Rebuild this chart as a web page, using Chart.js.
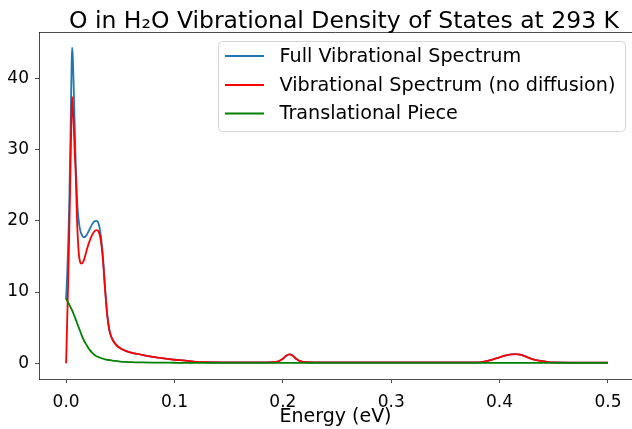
<!DOCTYPE html>
<html>
<head>
<meta charset="utf-8">
<script src="https://cdn.jsdelivr.net/npm/chart.js@4.4.1/dist/chart.umd.min.js"></script>
<style>
  html, body { margin: 0; padding: 0; background: #fff; }
  #c { display: block; }
</style>
</head>
<body>
<canvas id="c" width="632" height="429"></canvas>
<script>
// ---- data ----
const energy = [0, 0.001, 0.002, 0.003, 0.004, 0.005, 0.0055, 0.006, 0.007, 0.008,
  0.009, 0.010, 0.011, 0.012, 0.013, 0.014, 0.016, 0.018, 0.020, 0.022,
  0.024, 0.026, 0.028, 0.030, 0.032, 0.034, 0.036, 0.038, 0.040, 0.042,
  0.045, 0.050, 0.055, 0.060, 0.070, 0.080, 0.090, 0.100, 0.110, 0.120,
  0.130, 0.150, 0.180, 0.192, 0.196, 0.200, 0.203, 0.206, 0.209, 0.212,
  0.216, 0.222, 0.240, 0.300, 0.350, 0.380, 0.388, 0.394, 0.400, 0.406,
  0.411, 0.415, 0.419, 0.425, 0.431, 0.438, 0.445, 0.452, 0.470, 0.500];

const fullSpectrum = [9.0, 12.5, 17, 23, 31.5, 41, 44.3, 43.5, 39, 33,
  27.5, 23.5, 21, 19.6, 18.7, 18.2, 17.7, 17.8, 18.3, 18.9,
  19.5, 19.9, 20.0, 19.6, 18.0, 15.0, 10.5, 6.8, 4.6, 3.6,
  2.8, 2.1, 1.75, 1.5, 1.2, 0.9, 0.68, 0.5, 0.38, 0.2,
  0.15, 0.13, 0.13, 0.15, 0.28, 0.64, 1.05, 1.26, 1.1, 0.68,
  0.3, 0.15, 0.12, 0.12, 0.12, 0.13, 0.3, 0.56, 0.85, 1.1,
  1.27, 1.3, 1.22, 0.9, 0.56, 0.33, 0.18, 0.12, 0.1, 0.1];

const noDiffusion = [0, 6, 12, 19, 27, 35, 37.4, 36.5, 33.5, 29.5,
  26, 20.5, 17, 15.0, 14.2, 14.0, 14.3, 15.3, 16.4, 17.3,
  18.0, 18.5, 18.7, 18.5, 17.3, 14.5, 10.3, 6.7, 4.6, 3.6,
  2.8, 2.1, 1.75, 1.5, 1.2, 0.9, 0.68, 0.5, 0.38, 0.2,
  0.15, 0.13, 0.13, 0.15, 0.28, 0.64, 1.05, 1.26, 1.1, 0.68,
  0.3, 0.15, 0.12, 0.12, 0.12, 0.13, 0.3, 0.56, 0.85, 1.1,
  1.27, 1.3, 1.22, 0.9, 0.56, 0.33, 0.18, 0.12, 0.1, 0.1];

const translational = [9.1, 8.8, 8.5, 8.2, 7.9, 7.6, 7.45, 7.3, 6.9, 6.5,
  6.1, 5.7, 5.3, 4.9, 4.5, 4.1, 3.35, 2.8, 2.3, 1.85,
  1.5, 1.2, 1.0, 0.88, 0.75, 0.64, 0.56, 0.5, 0.45, 0.4,
  0.33, 0.25, 0.2, 0.16, 0.12, 0.1, 0.09, 0.08, 0.07, 0.07,
  0.06, 0.06, 0.06, 0.06, 0.06, 0.06, 0.06, 0.06, 0.06, 0.06,
  0.06, 0.06, 0.06, 0.06, 0.05, 0.05, 0.05, 0.05, 0.05, 0.05,
  0.05, 0.05, 0.05, 0.05, 0.05, 0.05, 0.05, 0.05, 0.05, 0.05];

const seriesNames = ['Full Vibrational Spectrum', 'Vibrational Spectrum (no diffusion)', 'Translational Piece'];
const xTickValues = [0.0, 0.1, 0.2, 0.3, 0.4, 0.5];
const yTickValues = [0, 10, 20, 30, 40];
const chartTitle = 'O in H\u2082O Vibrational Density of States at 293 K';
const xAxisLabel = 'Energy (eV)';

// ---- rendering ----
const FONT = "'DejaVu Sans', 'Liberation Sans', sans-serif";
const colors = ['#1f77b4', '#ff0000', '#008000'];
const seriesValues = [fullSpectrum, noDiffusion, translational];
const pts = arr => energy.map((e, i) => ({ x: e, y: arr[i] }));

const overlay = {
  id: 'overlay',
  afterDraw(chart) {
    const ctx = chart.ctx;
    const a = chart.chartArea;
    ctx.save();
    // top spine
    ctx.strokeStyle = 'rgba(0,0,0,0.7)';
    ctx.lineWidth = 1;
    ctx.beginPath();
    ctx.moveTo(a.left, a.top + 0.5);
    ctx.lineTo(a.right, a.top + 0.5);
    ctx.stroke();
    // title
    ctx.fillStyle = '#000';
    ctx.font = '23.5px ' + FONT;
    ctx.textAlign = 'center';
    ctx.textBaseline = 'alphabetic';
    ctx.fillText(chartTitle, 344, 28);
    // legend
    const bx = 218.5, by = 41.5, bw = 407, bh = 90, r = 4;
    ctx.beginPath();
    ctx.moveTo(bx + r, by);
    ctx.arcTo(bx + bw, by, bx + bw, by + bh, r);
    ctx.arcTo(bx + bw, by + bh, bx, by + bh, r);
    ctx.arcTo(bx, by + bh, bx, by, r);
    ctx.arcTo(bx, by, bx + bw, by, r);
    ctx.closePath();
    ctx.fillStyle = 'rgba(255,255,255,0.85)';
    ctx.fill();
    ctx.strokeStyle = '#d6d6d6';
    ctx.stroke();
    const rowsY = [56, 85, 113.5];
    ctx.font = '19.2px ' + FONT;
    ctx.textAlign = 'left';
    ctx.textBaseline = 'middle';
    chart.data.datasets.forEach((ds, i) => {
      ctx.strokeStyle = ds.borderColor;
      ctx.lineWidth = 1.8;
      ctx.beginPath();
      ctx.moveTo(225, rowsY[i]);
      ctx.lineTo(264, rowsY[i]);
      ctx.stroke();
      ctx.fillStyle = '#000';
      ctx.fillText(ds.label, 279.5, rowsY[i] + 1);
    });
    ctx.restore();
  }
};

new Chart(document.getElementById('c'), {
  type: 'line',
  data: {
    datasets: seriesNames.map((name, i) => ({
      label: name,
      data: pts(seriesValues[i]),
      borderColor: colors[i],
      backgroundColor: colors[i],
      borderWidth: 1.8,
      pointRadius: 0,
      fill: false,
      cubicInterpolationMode: 'monotone',
      order: 3 - i
    }))
  },
  options: {
    responsive: false,
    animation: false,
    devicePixelRatio: 1,
    layout: { padding: { top: 32, left: 0, right: 0, bottom: 0 } },
    plugins: { legend: { display: false }, title: { display: false }, tooltip: { enabled: false } },
    scales: {
      x: {
        type: 'linear',
        min: -0.025,
        max: 0.5222,
        afterFit(s) { s.height = 50; },
        afterBuildTicks(s) { s.ticks = xTickValues.map(v => ({ value: v })); },
        ticks: {
          callback: v => v.toFixed(1),
          font: { family: FONT, size: 17 },
          color: '#000',
          padding: 9,
          maxRotation: 0,
          autoSkip: false
        },
        grid: { drawOnChartArea: false, drawTicks: true, tickLength: 4, color: 'rgba(0,0,0,0.7)' },
        border: { display: true, color: 'rgba(0,0,0,0.7)', width: 1 },
        title: { display: true, text: xAxisLabel, font: { family: FONT, size: 19 }, color: '#000', padding: { top: 0, bottom: 1 } }
      },
      y: {
        type: 'linear',
        min: -2.2,
        max: 46.5,
        afterFit(s) { s.width = 39; },
        afterBuildTicks(s) { s.ticks = yTickValues.map(v => ({ value: v })); },
        ticks: {
          font: { family: FONT, size: 17 },
          color: '#000',
          padding: 6,
          autoSkip: false
        },
        grid: { drawOnChartArea: false, drawTicks: true, tickLength: 4, color: 'rgba(0,0,0,0.7)' },
        border: { display: true, color: 'rgba(0,0,0,0.7)', width: 1 }
      }
    }
  },
  plugins: [overlay]
});
</script>
</body>
</html>
